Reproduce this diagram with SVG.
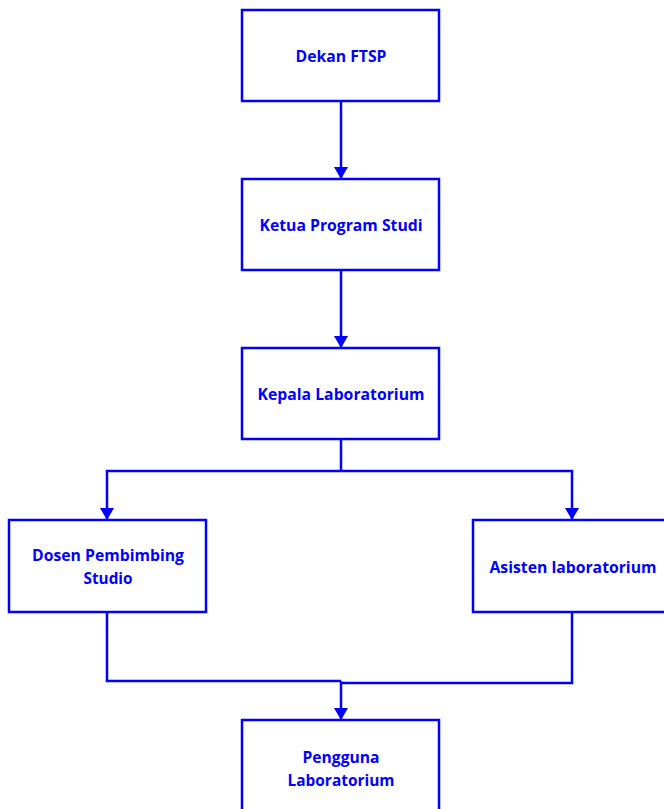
<svg xmlns="http://www.w3.org/2000/svg" width="664" height="809" viewBox="0 0 664 809">
<style>
.box{fill:#fff;stroke:#0000FF;stroke-width:2.5}
.t{font-family:"Open Sans","Noto Sans",sans-serif;font-weight:bold;font-size:16.5px;fill:#0000FF;text-anchor:middle}
.c{fill:none;stroke:#0000FF;stroke-width:2.5}
</style>
<defs>
<marker id="ah" markerWidth="12" markerHeight="14" viewBox="0 0 12 14" refX="12" refY="7" orient="auto" markerUnits="userSpaceOnUse">
<path d="M0,0 L12,7 L0,14 Z" fill="#0000FF"/>
</marker>
</defs>
<rect width="664" height="809" fill="#fff"/>
<g id="connectors">
<line class="c" x1="341" y1="101" x2="341" y2="179" marker-end="url(#ah)"/>
<line class="c" x1="341" y1="270" x2="341" y2="348" marker-end="url(#ah)"/>
<line class="c" x1="341" y1="439" x2="341" y2="471"/>
<polyline class="c" points="341,471 107,471 107,520" marker-end="url(#ah)"/>
<polyline class="c" points="341,471 572,471 572,520" marker-end="url(#ah)"/>
<polyline class="c" points="107,612 107,681 341,681"/>
<polyline class="c" points="572,612 572,683 341,683"/>
<line class="c" x1="341" y1="681" x2="341" y2="720" marker-end="url(#ah)"/>
</g>
<g id="dekan">
<rect class="box" x="242" y="10" width="197" height="91"/>
<text class="t" x="341" y="62" textLength="91" lengthAdjust="spacingAndGlyphs">Dekan FTSP</text>
</g>
<g id="kaprodi">
<rect class="box" x="242" y="179" width="197" height="91"/>
<text class="t" x="341" y="231" textLength="163" lengthAdjust="spacingAndGlyphs">Ketua Program Studi</text>
</g>
<g id="kalab">
<rect class="box" x="242" y="348" width="197" height="91"/>
<text class="t" x="341" y="400" textLength="167" lengthAdjust="spacingAndGlyphs">Kepala Laboratorium</text>
</g>
<g id="dosen">
<rect class="box" x="9" y="520" width="197" height="92"/>
<text class="t" x="108" y="561" textLength="152" lengthAdjust="spacingAndGlyphs">Dosen Pembimbing</text>
<text class="t" x="108" y="584" textLength="49" lengthAdjust="spacingAndGlyphs">Studio</text>
</g>
<g id="asisten">
<rect class="box" x="473" y="520" width="197" height="92"/>
<text class="t" x="573" y="573" textLength="167" lengthAdjust="spacingAndGlyphs">Asisten laboratorium</text>
</g>
<g id="pengguna">
<rect class="box" x="242" y="720" width="197" height="92"/>
<text class="t" x="341" y="763" textLength="77" lengthAdjust="spacingAndGlyphs">Pengguna</text>
<text class="t" x="341" y="786" textLength="107" lengthAdjust="spacingAndGlyphs">Laboratorium</text>
</g>
</svg>
